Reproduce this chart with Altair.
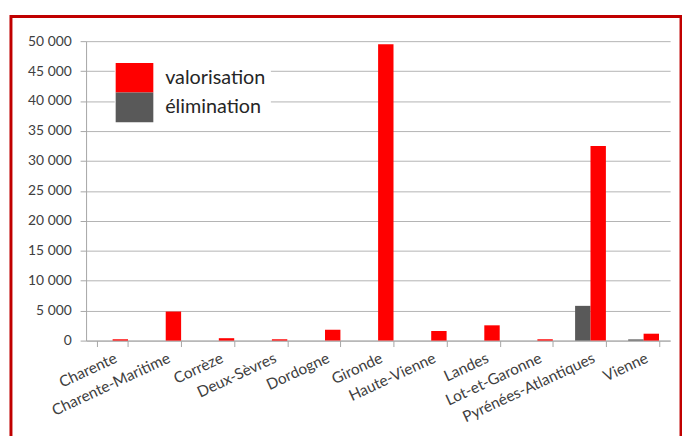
import altair as alt
import pandas as pd

departements = ["Charente", "Charente-Maritime", "Corrèze", "Deux-Sèvres", "Dordogne",
                "Gironde", "Haute-Vienne", "Landes", "Lot-et-Garonne",
                "Pyrénées-Atlantiques", "Vienne"]
valorisation = [220, 4850, 400, 220, 1800, 49500, 1600, 2550, 220, 32500, 1150]
elimination = [0, 0, 0, 0, 0, 0, 0, 0, 0, 5800, 200]
series = ["valorisation", "élimination"]
colors = ["#ff0000", "#595959"]
y_ticks = list(range(0, 50001, 5000))

rows = []
for d, v, e in zip(departements, valorisation, elimination):
    rows.append({"dep": d, "serie": "élimination", "tonnes": e})
    rows.append({"dep": d, "serie": "valorisation", "tonnes": v})
df = pd.DataFrame(rows)

bars = alt.Chart(df).mark_bar().encode(
    x=alt.X("dep:N", sort=departements,
            scale=alt.Scale(paddingInner=0.42, paddingOuter=0.21),
            axis=alt.Axis(title=None, labelAngle=-25, labelAlign="right",
                          labelBaseline="top", tickBand="extent", tickSize=6,
                          labelPadding=4, labelFontSize=15.5, grid=False)),
    xOffset=alt.XOffset("serie:N", sort=["élimination", "valorisation"],
                        scale=alt.Scale(paddingInner=0, paddingOuter=0)),
    y=alt.Y("tonnes:Q", scale=alt.Scale(domain=[0, 50000], nice=False),
            axis=alt.Axis(title=None, values=y_ticks, tickSize=6, labelPadding=9,
                          labelExpr="replace(format(datum.value, ','), ',', ' ')")),
    color=alt.Color("serie:N", scale=alt.Scale(domain=series, range=colors),
                    legend=alt.Legend(title=None, orient="none", legendX=29, legendY=17,
                                      symbolType="M-1.27,-1H1.27V1H-1.27Z",
                                      symbolSize=900, symbolStrokeWidth=0,
                                      labelFontSize=20, labelFont="Lato",
                                      labelColor="#262626", labelOffset=16,
                                      rowPadding=0, fillColor="white", padding=5)),
)

border = alt.Chart(pd.DataFrame({"k": [0]})).mark_rect(
    fillOpacity=0, stroke="#c00000", strokeWidth=3, clip=False
).encode(x=alt.value(-76), x2=alt.value(602), y=alt.value(-25), y2=alt.value(500))

chart = alt.layer(bars, border).properties(
    width=591, height=303,
    padding={"left": 79, "top": 31, "right": 12, "bottom": 94},
    autosize=alt.AutoSizeParams(type="none"),
    background="white",
).configure_view(stroke=None).configure_axis(
    labelFont="Lato", labelFontSize=14, labelColor="#404040",
    domainColor="#a6a6a6", tickColor="#a6a6a6", gridColor="#b3b3b3",
)

chart.save("out.html", embed_options={"renderer": "svg", "actions": False})
